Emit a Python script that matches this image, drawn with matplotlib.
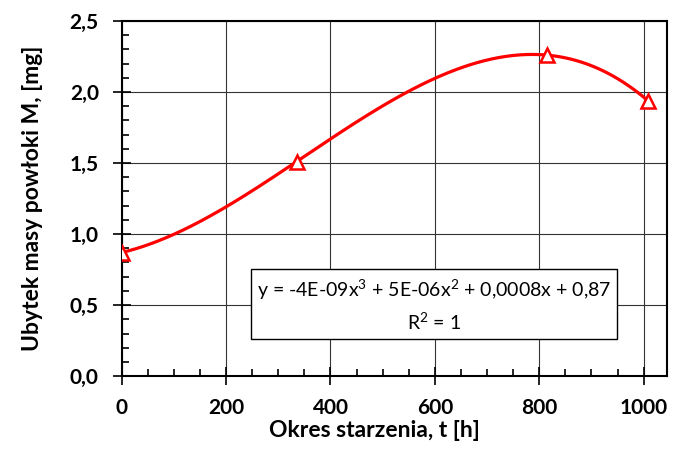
import matplotlib.pyplot as plt
import numpy as np
from matplotlib.ticker import MultipleLocator, FuncFormatter

plt.rcParams['font.family'] = ['Lato', 'DejaVu Sans']
plt.rcParams['mathtext.fontset'] = 'custom'
plt.rcParams['mathtext.rm'] = 'Lato'

# data
czas = [0, 335, 815, 1008]
ubytek = [0.87, 1.51, 2.26, 1.94]
eq_text = 'y = -4E-09x$^{\\mathrm{3}}$ + 5E-06x$^{\\mathrm{2}}$ + 0,0008x + 0,87\nR$^{\\mathrm{2}}$ = 1'


def plot():
    fig = plt.figure(figsize=(6.8, 4.57), dpi=100)
    ax = fig.add_axes([0.179, 0.177, 0.802, 0.777])

    # trendline: 3rd order polynomial through the points (like excel)
    coef = np.polyfit(czas, ubytek, 3)
    xs = np.linspace(min(czas), max(czas), 300)
    ax.plot(xs, np.polyval(coef, xs), color='red', lw=2.3, zorder=3)
    ax.plot(czas, ubytek, linestyle='none', marker='^', ms=9.5, mfc='white',
            mec='red', mew=1.8, zorder=4)

    ax.set_xlim(0, 1045)
    ax.set_ylim(0, 2.5)
    ax.xaxis.set_major_locator(MultipleLocator(200))
    ax.xaxis.set_minor_locator(MultipleLocator(50))
    ax.yaxis.set_major_locator(MultipleLocator(0.5))
    ax.yaxis.set_minor_locator(MultipleLocator(0.1))
    ax.yaxis.set_major_formatter(FuncFormatter(lambda v, p: f'{v:.1f}'.replace('.', ',')))

    ax.grid(True, which='major', color='#333333', lw=0.8)
    ax.tick_params(which='major', direction='inout', length=13, width=1.2,
                   labelsize=15)
    ax.tick_params(axis='x', which='major', pad=9)
    ax.tick_params(axis='y', which='major', pad=10)
    ax.tick_params(which='minor', direction='in', length=5, width=1.2)
    for lab in ax.get_xticklabels() + ax.get_yticklabels():
        lab.set_fontweight('bold')
    for s in ax.spines.values():
        s.set_linewidth(1.5)

    ax.set_xlabel('Okres starzenia, t [h]', fontsize=16.5, fontweight='bold')
    ax.set_ylabel('Ubytek masy powłoki M, [mg]', fontsize=16.5, fontweight='bold')
    ax.xaxis.set_label_coords(0.464, -0.125)
    ax.yaxis.set_label_coords(-0.145, 0.5)

    ax.text(598, 0.5, eq_text, ha='center', va='center',
            fontsize=14, linespacing=1.45,
            bbox=dict(boxstyle='square,pad=0.3', fc='white', ec='black', lw=1))

    plt.savefig('out.png', dpi=100)
    plt.close()


if __name__ == '__main__':
    plot()
